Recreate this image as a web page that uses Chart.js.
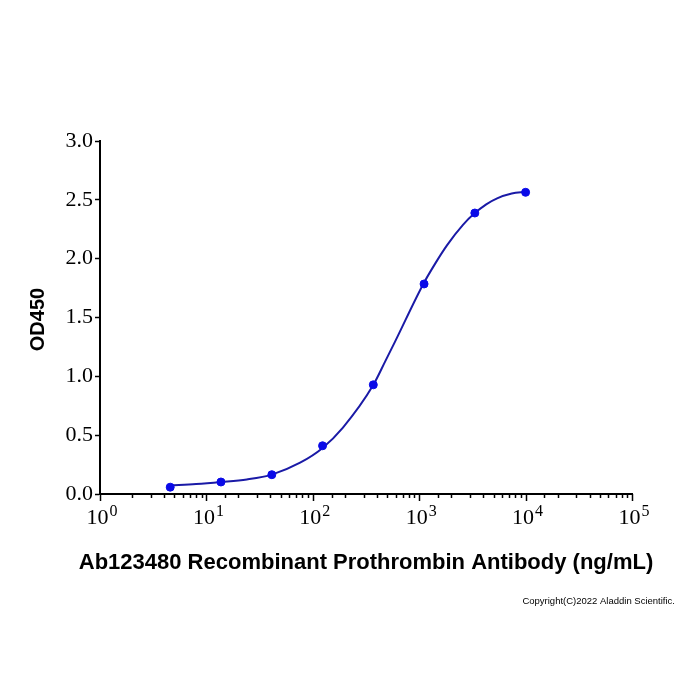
<!DOCTYPE html>
<html>
<head>
<meta charset="utf-8">
<script src="https://cdn.jsdelivr.net/npm/chart.js@4.4.1/dist/chart.umd.min.js"></script>
<style>
  html, body { margin: 0; padding: 0; background: #ffffff; }
  #wrap { width: 700px; height: 700px; }
</style>
</head>
<body>
<div id="wrap"><canvas id="c" width="700" height="700"></canvas></div>
<script>
// Measured points (ng/mL vs OD450)
const concentrations = [4.57, 13.7, 41.2, 123.5, 370.4, 1111, 3333, 10000];
const od450 = [0.058, 0.102, 0.164, 0.41, 0.928, 1.785, 2.388, 2.564];

// Fitted curve
const fitConc = [4.57, 8, 13.7, 24, 41.2, 76, 122, 192, 370, 478, 593, 1090, 1413, 1830, 2590, 3290, 4266, 5400, 7413, 10000];
const fitOD = [0.074, 0.085, 0.102, 0.124, 0.165, 0.266, 0.387, 0.565, 0.926, 1.125, 1.295, 1.783, 1.958, 2.115, 2.289, 2.383, 2.462, 2.513, 2.554, 2.568];

// Axis labels / ticks
const xExponents = [0, 1, 2, 3, 4, 5];
const yTickValues = [0, 0.5, 1.0, 1.5, 2.0, 2.5, 3.0];
const xTitle = 'Ab123480 Recombinant Prothrombin Antibody (ng/mL)';
const yTitle = 'OD450';
const copyright = 'Copyright(C)2022 Aladdin Scientific.';

const pointData = concentrations.map((c, i) => ({ x: c, y: od450[i] }));
const curveData = fitConc.map((c, i) => ({ x: c, y: fitOD[i] }));

const SERIF = '"Liberation Serif", "Times New Roman", serif';
const SANS = '"Liberation Sans", Arial, sans-serif';

const decorPlugin = {
  id: 'decor',
  afterDraw(chart) {
    const ctx = chart.ctx;
    const xs = chart.scales.x;
    const area = chart.chartArea;
    ctx.save();
    // x tick marks (major + minor)
    ctx.strokeStyle = '#000';
    ctx.lineWidth = 1.5;
    xs.ticks.forEach(t => {
      const e = Math.log10(t.value);
      const major = Math.abs(e - Math.round(e)) < 1e-6;
      const px = Math.round(xs.getPixelForValue(t.value)) + 0.5;
      ctx.beginPath();
      ctx.moveTo(px, area.bottom);
      ctx.lineTo(px, area.bottom + (major ? 7 : 4));
      ctx.stroke();
    });
    // x tick labels 10^n
    ctx.fillStyle = '#000';
    ctx.textBaseline = 'alphabetic';
    xExponents.forEach(n => {
      const px = xs.getPixelForValue(Math.pow(10, n));
      ctx.font = '22px ' + SERIF;
      const wBase = ctx.measureText('10').width;
      ctx.font = '16px ' + SERIF;
      const wExp = ctx.measureText(String(n)).width;
      const total = wBase + 1 + wExp;
      const x0 = px + 2 - total / 2;
      ctx.textAlign = 'left';
      ctx.font = '22px ' + SERIF;
      ctx.fillText('10', x0, 524);
      ctx.font = '16px ' + SERIF;
      ctx.fillText(String(n), x0 + wBase + 1, 516);
    });
    // x title
    ctx.font = 'bold 22px ' + SANS;
    ctx.textAlign = 'center';
    ctx.textBaseline = 'middle';
    ctx.fillText(xTitle, (area.left + area.right) / 2, 563);
    // y title
    ctx.font = 'bold 20px ' + SANS;
    ctx.save();
    ctx.translate(38, (area.top + area.bottom) / 2 + 2);
    ctx.rotate(-Math.PI / 2);
    ctx.fillText(yTitle, 0, 0);
    ctx.restore();
    // copyright
    ctx.font = '9.5px ' + SANS;
    ctx.textAlign = 'right';
    ctx.fillText(copyright, 675, 601);
    ctx.restore();
  }
};

new Chart(document.getElementById('c'), {
  type: 'scatter',
  data: {
    datasets: [
      {
        label: 'Measured',
        data: pointData,
        backgroundColor: '#0a0ae8',
        borderColor: '#0a0ae8',
        pointRadius: 4,
        pointHoverRadius: 4,
        showLine: false,
        order: 0
      },
      {
        label: 'Fit',
        data: curveData,
        borderColor: '#1a1aa6',
        backgroundColor: '#1a1aa6',
        borderWidth: 2,
        pointRadius: 0,
        showLine: true,
        cubicInterpolationMode: 'monotone',
        order: 1
      }
    ]
  },
  options: {
    responsive: false,
    animation: false,
    devicePixelRatio: 1,
    layout: { padding: { left: 0, top: 141, right: 68, bottom: 0 } },
    plugins: { legend: { display: false }, tooltip: { enabled: false }, title: { display: false } },
    scales: {
      x: {
        type: 'logarithmic',
        min: 1,
        max: 100000,
        afterFit(scale) { scale.height = 206; },
        ticks: { display: false, autoSkip: false },
        grid: { display: false },
        border: { display: true, color: '#000', width: 2 }
      },
      y: {
        type: 'linear',
        min: 0,
        max: 3,
        afterFit(scale) { scale.width = 100; },
        afterBuildTicks(scale) { scale.ticks = yTickValues.map(v => ({ value: v })); },
        ticks: {
          color: '#000',
          padding: 2,
          font: { family: SERIF, size: 22 },
          callback: v => Number(v).toFixed(1)
        },
        grid: { display: true, drawOnChartArea: false, drawTicks: true, tickLength: 5, tickWidth: 1.5, tickColor: '#000', color: '#000' },
        border: { display: true, color: '#000', width: 2 }
      }
    }
  },
  plugins: [decorPlugin]
});
</script>
</body>
</html>
